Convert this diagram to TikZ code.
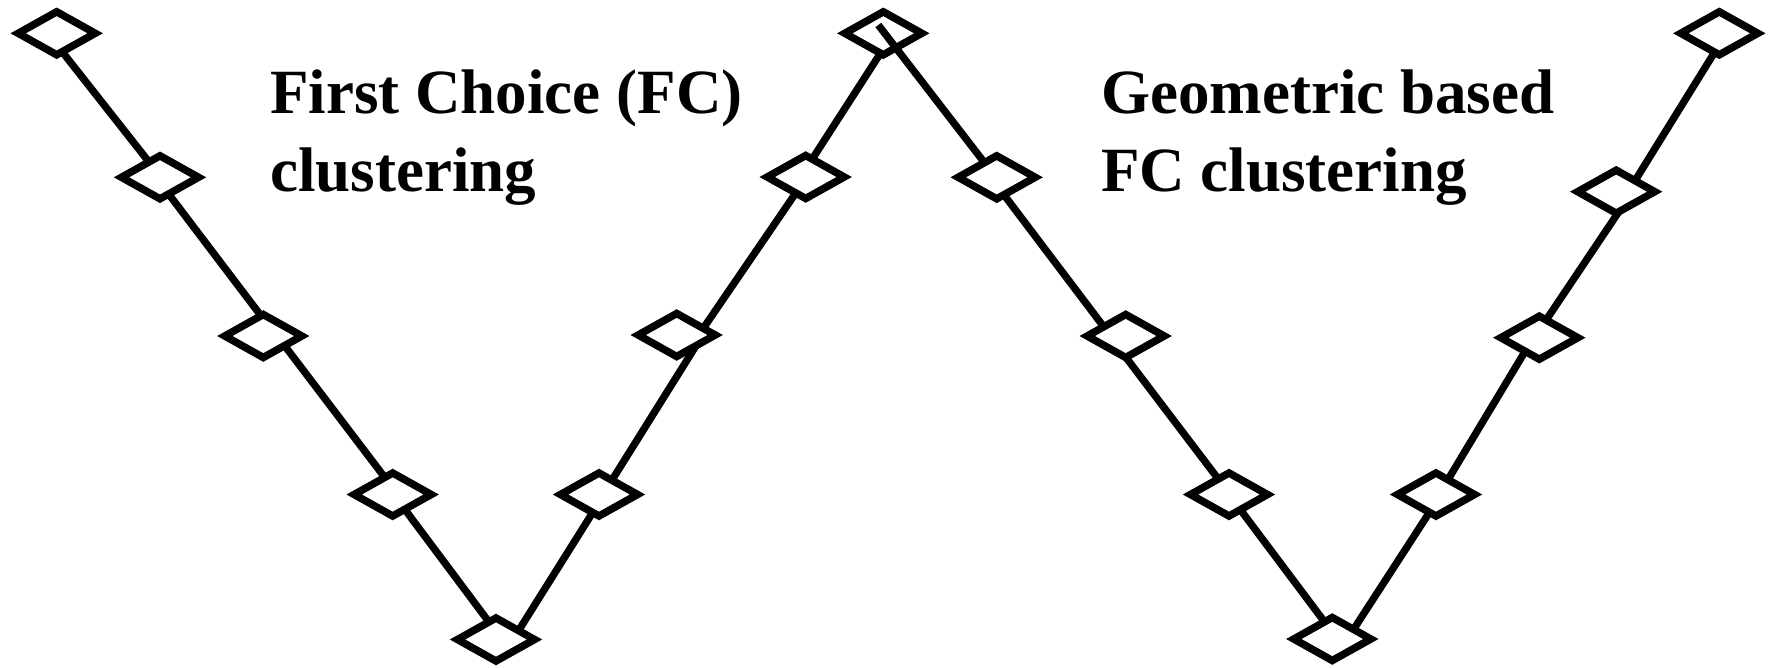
\documentclass[tikz,border=0pt]{standalone}
\usepackage{fontspec}
\setmainfont{Liberation Serif}
\usetikzlibrary{calc}
\tikzset{
  diapath/.style={draw=black, fill=white, line width=7.5pt, miter limit=10},
  conn/.style={draw=black, line width=7.3pt},
  lbl/.style={anchor=base west, inner sep=0pt, align=left, font=\fontsize{63}{78}\selectfont\bfseries}
}
\newcommand{\drawdia}[1]{%
  \draw[diapath] ($(#1)+(-38.5,0)$) -- ($(#1)+(0,-21.5)$) -- ($(#1)+(38.5,0)$) -- ($(#1)+(0,21.5)$) -- cycle;}
\begin{document}
\begin{tikzpicture}[x=1pt,y=-1pt]
\useasboundingbox (0,0) rectangle (1769,667);
% diamond positions
\coordinate (d1)  at (56.7,33.3);
\coordinate (d2)  at (160,177.3);
\coordinate (d3)  at (263.3,336);
\coordinate (d4)  at (392.7,494.5);
\coordinate (d5)  at (496,639.5);
\coordinate (d6)  at (599,494.5);
\coordinate (d7)  at (676.7,335);
\coordinate (d8)  at (805.7,177);
\coordinate (d9)  at (883.3,33.3);
\coordinate (d10) at (996.7,177.3);
\coordinate (d11) at (1125.7,336);
\coordinate (d12) at (1229,494.5);
\coordinate (d13) at (1332.3,639);
\coordinate (d14) at (1436,494.5);
\coordinate (d15) at (1539.3,337.7);
\coordinate (d16) at (1616.2,191.7);
\coordinate (d17) at (1719.3,33.3);
% connectors beneath the diamonds
\draw[conn] ($(d1)+(-9,0)$) -- ($(d2)+(1,0)$);
\draw[conn] ($(d2)+(-4,0)$) -- ($(d3)+(13,0)$);
\draw[conn] ($(d3)+(14,0)$) -- ($(d4)+(5,0)$);
\draw[conn] ($(d4)+(1,0)$) -- ($(d5)+(6,0)$);
\draw[conn] ($(d5)+(17,0)$) -- ($(d6)+(5,0)$);
\draw[conn] ($(d6)+(4,0)$) -- ($(d7)+(26,0)$);
\draw[conn] ($(d7)+(22,0)$) -- ($(d8)+(1,0)$);
\draw[conn] ($(d8)+(-5,0)$) -- ($(d9)+(10,0)$);
\draw[conn] ($(d10)+(-6,0)$) -- ($(d11)+(-15,0)$);
\draw[conn] ($(d11)+(-16,0)$) -- ($(d12)+(1,0)$);
\draw[conn] ($(d12)+(0,0)$) -- ($(d13)+(5,0)$);
\draw[conn] ($(d13)+(15,0)$) -- ($(d14)+(5,0)$);
\draw[conn] ($(d14)+(3,0)$) -- ($(d15)+(-6,0)$);
\draw[conn] ($(d15)+(-5,0)$) -- ($(d16)+(16,0)$);
\draw[conn] ($(d16)+(12,0)$) -- ($(d17)+(7,0)$);
% diamonds
\foreach \n in {d1,d2,d3,d4,d5,d6,d7,d8,d9,d11,d12,d13,d14,d15,d16,d17}{\drawdia{\n}}
% connector drawn over the top diamond
\draw[conn] ($(d9)+(-5,-8.3)$) -- ($(d10)+(-1,0)$);
\drawdia{d10}
% labels
\node[lbl] (t1) at (270,191.5) {First Choice (FC)\\clustering};
\node[lbl] (t2) at (1101,191.5) {Geometric based\\FC clustering};
\end{tikzpicture}
\end{document}
